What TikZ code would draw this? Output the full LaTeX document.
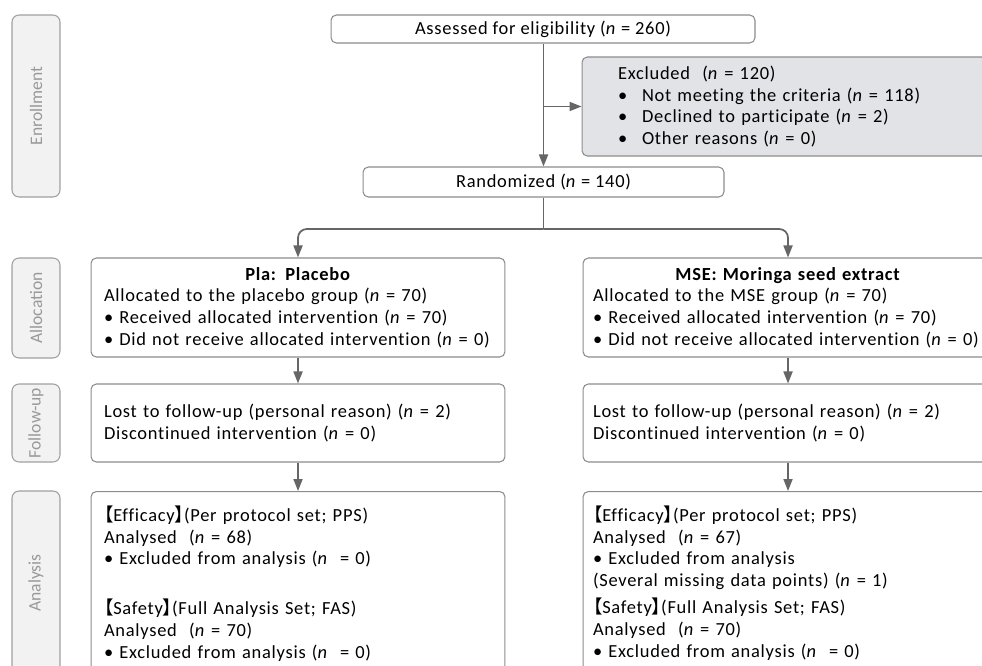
\documentclass[tikz,border=0pt]{standalone}
\usepackage{fontspec}
\setmainfont{Carlito}[LetterSpace=4, Ligatures=NoCommon]
\newfontfamily\sidefont{Carlito}
\newfontfamily\cjk[RawFeature=+palt]{Noto Sans CJK SC}
\usetikzlibrary{arrows.meta,positioning}

\definecolor{boxline}{HTML}{8C8C8C}
\definecolor{sideline}{HTML}{A0A0A0}
\definecolor{sidefill}{HTML}{F2F2F2}
\definecolor{sidetext}{HTML}{999999}
\definecolor{exclfill}{HTML}{E1E3E7}
\definecolor{arrowgray}{HTML}{666666}

\begin{document}
\begin{tikzpicture}[x=0.02cm,y=-0.02cm]
		% styles for the boxes and connectors
		\tikzset{
			box/.style={draw=boxline, fill=white, rounded corners=3pt, line width=0.6pt,
				inner xsep=0.26cm, inner ysep=0pt, align=left,
				font=\fontsize{10.5}{12.3}\selectfont},
			midbox/.style={box, align=center},
			exclbox/.style={box, fill=exclfill, inner xsep=0.72cm, text width=6.92cm,
				minimum width=8.36cm, minimum height=1.98cm},
			sidebox/.style={draw=sideline, fill=sidefill, rounded corners=4pt, line width=0.6pt,
				rotate=90, text=sidetext, minimum height=0.96cm, inner sep=0pt,
				font=\sidefont\fontsize{10}{12}\selectfont},
			arr/.style={draw=arrowgray, line width=1pt, -{Triangle[length=0.24cm, width=0.18cm]}},
			line/.style={draw=arrowgray, line width=1pt}
		}
		\def\lb{{\cjk\smash{【}}}
		\def\rb{{\cjk\smash{】}}}
		
		\useasboundingbox (0,0) rectangle (982,665);
		\clip (0,0) rectangle (982,665);
		
		% side labels
		\node[sidebox, minimum width=3.64cm] (enrol) at (36,106) {Enrollment};
		\node[sidebox, minimum width=2cm] (alloc) at (36,308) {Allocation};
		\node[sidebox, minimum width=1.56cm] (follow) at (36,423) {Follow-up};
		\node[sidebox, minimum width=3.68cm] (anal) at (36,583) {Analysis};
		
		% enrollment
		\node[midbox, minimum width=8.48cm, minimum height=0.56cm] (assess) at (543,29)
			{Assessed for eligibility (\textit{n} = 260)};
		\node[exclbox] (excl) at (791,106.5)
			{Excluded\ \ (\textit{n} = 120)\\
			\makebox[0.48cm][l]{\textbullet}Not meeting the criteria (\textit{n} = 118)\\
			\makebox[0.48cm][l]{\textbullet}Declined to participate (\textit{n} = 2)\\
			\makebox[0.48cm][l]{\textbullet}Other reasons (\textit{n} = 0)};
		\node[midbox, minimum width=7.22cm, minimum height=0.6cm] (rand) at (543.5,182)
			{Randomized (\textit{n} = 140)};
		\coordinate (split) at (543.5,229);
		
		% allocation
		\node[box, text width=7.76cm, minimum width=8.24cm, minimum height=1.98cm] (pla) at (298,307.5)
			{{\centering\textbf{Pla: Placebo}\par}
			Allocated to the placebo group (\textit{n} = 70)\\
			\textbullet\ Received allocated intervention (\textit{n} = 70)\\
			\textbullet\ Did not receive allocated intervention (\textit{n} = 0)};
		\node[box, inner xsep=0.2cm, text width=7.8cm, minimum width=8.2cm, minimum height=1.98cm] (mse) at (788,307.5)
			{{\centering\textbf{MSE: Moringa seed extract}\par}
			Allocated to the MSE group (\textit{n} = 70)\\
			\textbullet\ Received allocated intervention (\textit{n} = 70)\\
			\textbullet\ Did not receive allocated intervention (\textit{n} = 0)};
		
		% follow-up
		\node[box, text width=7.76cm, minimum width=8.24cm, minimum height=1.56cm] (plafu) at (298,423)
			{Lost to follow-up (personal reason) (\textit{n} = 2)\\
			Discontinued intervention (\textit{n} = 0)};
		\node[box, inner xsep=0.2cm, text width=7.8cm, minimum width=8.2cm, minimum height=1.56cm] (msefu) at (788,423)
			{Lost to follow-up (personal reason) (\textit{n} = 2)\\
			Discontinued intervention (\textit{n} = 0)};
		
		% analysis
		\node[box, anchor=north, inner ysep=0.33cm, text width=7.76cm, minimum width=8.24cm] (plaan) at (298,491)
			{\lb Efficacy\rb(Per protocol set; PPS)\\
			Analysed\ \ (\textit{n} = 68)\\
			\textbullet\ Excluded from analysis (\textit{n}\ \ = 0)\\[0.57cm]
			\lb Safety\rb(Full Analysis Set; FAS)\\
			Analysed\ \ (\textit{n} = 70)\\
			\textbullet\ Excluded from analysis (\textit{n}\ \ = 0)\\[0.4cm]
			\mbox{}};
		\node[box, anchor=north, inner xsep=0.2cm, inner ysep=0.33cm, text width=7.8cm, minimum width=8.2cm] (msean) at (788,491)
			{\lb Efficacy\rb(Per protocol set; PPS)\\
			Analysed\ \ (\textit{n} = 67)\\
			\textbullet\ Excluded from analysis\\
			(Several missing data points) (\textit{n} = 1)\\[0.12cm]
			\lb Safety\rb(Full Analysis Set; FAS)\\
			Analysed\ \ (\textit{n} = 70)\\
			\textbullet\ Excluded from analysis (\textit{n}\ \ = 0)\\[0.4cm]
			\mbox{}};
		
		% connectors
		\draw[arr] (rand.north |- assess.south) -- (rand.north);
		\draw[arr] (rand.north |- excl.west) -- (excl.west);
		\draw[line] (rand.south) -- (split);
		\draw[arr, rounded corners=5pt] (split) -| (pla.north);
		\draw[arr, rounded corners=5pt] (split) -| (mse.north);
		\draw[arr] (pla) -- (plafu);
		\draw[arr] (mse) -- (msefu);
		\draw[arr] (plafu) -- (plaan);
		\draw[arr] (msefu) -- (msean);
	\end{tikzpicture}
\end{document}
